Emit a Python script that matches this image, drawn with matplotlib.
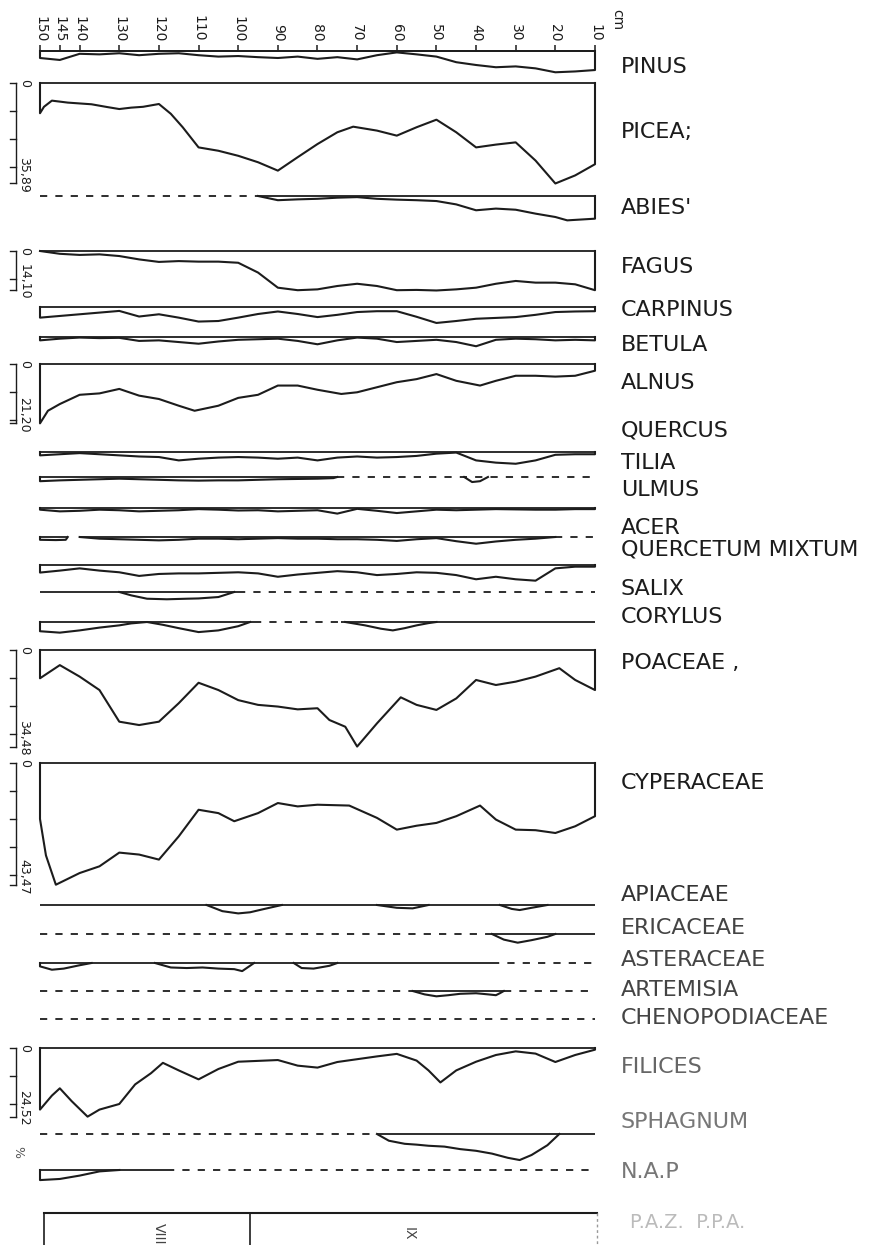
import numpy as np
import matplotlib
matplotlib.use("Agg")
import matplotlib.pyplot as plt

plt.rcParams['font.family'] = ['DejaVu Sans']

# figure geometry (pixels)
W, H = 873, 1245
X_LEFT, X_RIGHT = 40, 595          # depth 150 cm .. 10 cm
SCALE = 2.8                        # px per percent, common to all curves
INK = '#1c1c1c'

# depth scale
DEPTH = list(range(150, 5, -5))    # 150, 145, ... 10 cm
TICKS = [150, 145, 140, 130, 120, 110, 100, 90, 80, 70, 60, 50, 40, 30, 20, 10]

# pollen percentages
PINUS = [2.5, 3.2, 1.0, 1.2, 0.8, 1.5, 1.0, 0.8, 1.5, 2.0, 1.8, 2.2, 2.5, 2.0, 2.8,
         2.2, 3.0, 1.5, 0.5, 1.2, 2.0, 4.0, 5.0, 5.8, 5.5, 6.2, 7.6, 7.3, 6.8]

PICEA_D = [150, 149, 147, 143, 140, 137, 133, 130, 127, 124, 120, 117, 114, 110, 105,
           100, 95, 90, 85, 80, 75, 71, 65, 60, 55, 50, 45, 40, 35, 30, 25, 20, 15, 10]
PICEA = [10.8, 8.5, 6.3, 7.0, 7.3, 7.6, 8.6, 9.3, 8.8, 8.5, 7.5, 11.0, 15.8, 23.0, 24.2,
         26.0, 28.3, 31.3, 26.5, 21.8, 17.6, 15.6, 17.0, 18.8, 15.8, 13.1, 17.6, 23.0,
         22.0, 21.2, 27.7, 35.89, 33.0, 29.0]

ABIES_D = [95, 90, 85, 80, 75, 70, 65, 60, 55, 50, 45, 40, 35, 30, 25, 20, 17, 10]
ABIES = [0, 1.5, 1.2, 1.0, 0.6, 0.4, 1.0, 1.3, 1.5, 1.8, 3.0, 5.1, 4.5, 4.9, 6.3, 7.5, 8.7, 8.1]

FAGUS = [0, 1.0, 1.4, 1.2, 1.8, 3.0, 3.9, 3.6, 3.8, 3.8, 4.2, 7.7, 13.1, 14.0, 13.7,
         12.5, 11.7, 12.5, 14.0, 13.9, 14.1, 13.7, 13.1, 11.7, 10.7, 11.3, 11.3, 11.9, 14.0]

CARPINUS = [3.8, 3.2, 2.6, 2.0, 1.4, 3.4, 2.6, 3.8, 5.2, 5.0, 3.8, 2.5, 1.6, 2.5, 3.6,
            2.8, 1.8, 1.5, 1.5, 3.5, 5.7, 5.0, 4.2, 3.9, 3.6, 2.8, 1.8, 1.6, 1.5]

BETULA = [1.2, 0.6, 0.2, 0.4, 0.3, 1.4, 1.2, 1.8, 2.4, 1.6, 1.0, 0.8, 0.6, 1.4, 2.6,
          1.2, 0.2, 0.6, 1.8, 1.4, 1.0, 1.8, 3.3, 1.0, 0.6, 0.8, 1.2, 1.0, 1.2]

ALNUS_D = [150, 148, 145, 140, 135, 130, 125, 120, 115, 111, 105, 100, 95, 90, 85,
           80, 74, 70, 65, 60, 55, 50, 45, 39, 35, 30, 25, 20, 15, 10]
ALNUS = [21.2, 16.7, 14.3, 11.0, 10.5, 8.9, 11.3, 12.5, 14.9, 16.7, 14.9, 12.1, 11.0, 7.7, 7.7,
         9.2, 10.7, 10.1, 8.3, 6.5, 5.4, 3.6, 6.0, 7.7, 6.0, 4.2, 4.2, 4.5, 4.2, 2.4]

QUERCUS = [1.2, 0.8, 0.4, 0.8, 1.2, 1.6, 1.8, 3.0, 2.4, 2.0, 1.8, 2.0, 2.4, 2.0, 3.0,
           2.0, 1.6, 2.0, 1.8, 1.4, 0.6, 0.2, 3.0, 3.8, 4.2, 3.0, 1.0, 0.8, 0.8]

TILIA_D = [150, 145, 140, 135, 130, 125, 120, 115, 110, 105, 100, 95, 90, 85, 80, 76, 75,
           43, 41, 39, 37]
TILIA = [1.5, 1.2, 1.0, 0.8, 0.6, 0.8, 1.0, 1.2, 1.3, 1.2, 1.2, 1.0, 0.8, 0.7, 0.6, 0.4, 0,
         0, 1.8, 1.5, 0]

ULMUS = [0.6, 1.2, 1.0, 0.6, 0.8, 1.2, 1.0, 0.8, 0.4, 0.6, 0.9, 0.8, 1.2, 1.0, 0.8,
         2.0, 0.3, 1.0, 1.8, 1.2, 0.6, 0.8, 0.6, 0.4, 0.5, 0.6, 0.6, 0.4, 0.4]

ACER_D = [150, 146, 143.5, 143, 140, 135, 130, 125, 120, 115, 110, 105, 100, 95, 90, 85,
          80, 75, 70, 65, 60, 55, 50, 45, 40, 35, 30, 25, 20]
ACER = [1.0, 1.1, 1.0, 0, 0, 0.6, 0.8, 1.0, 1.2, 1.0, 0.6, 0.6, 0.8, 0.6, 0.4, 0.6,
        0.6, 0.8, 0.8, 1.0, 1.4, 0.8, 0.4, 1.5, 2.4, 1.6, 1.0, 0.6, 0]

QM = [2.7, 2.0, 1.2, 2.0, 2.6, 3.9, 3.2, 3.0, 3.0, 2.8, 2.6, 3.0, 4.2, 3.4, 2.8,
      2.2, 2.6, 3.6, 3.2, 2.6, 2.8, 3.6, 5.1, 4.2, 5.1, 5.6, 1.2, 0.6, 0.6]

SALIX_D = [130, 127, 123, 118, 113, 110, 105, 101]
SALIX = [0, 1.2, 2.4, 2.6, 2.4, 2.3, 1.8, 0]

CORYLUS_D = [150, 145, 140, 135, 130, 127, 123, 119, 115, 110, 105, 100, 97,
             73, 68, 64, 61, 58, 55, 52, 50]
CORYLUS = [3.3, 3.8, 3.0, 2.0, 1.2, 0.5, 0, 1.0, 2.2, 3.6, 3.0, 1.5, 0,
           0, 1.2, 2.4, 3.0, 2.2, 1.2, 0.4, 0]

POACEAE_D = [150, 145, 140, 135, 130, 125, 120, 115, 110, 105, 100, 95, 90, 85, 80,
             77, 73, 70, 65, 59, 55, 50, 45, 40, 35, 30, 25, 19, 15, 10]
POACEAE = [10.1, 5.4, 9.5, 14.3, 25.6, 26.8, 25.6, 19.0, 11.7, 14.3, 17.9, 19.6, 20.2, 21.2, 20.8,
           25.0, 27.4, 34.48, 26.2, 16.9, 19.6, 21.4, 17.3, 10.7, 12.5, 11.3, 9.5, 6.5, 10.7, 14.3]

CYPERACEAE_D = [150, 148.5, 146, 140, 135, 130, 125, 120, 115, 110, 105, 101, 95, 90, 85,
                80, 72, 65, 60, 55, 50, 45, 39, 35, 30, 25, 20, 15, 10]
CYPERACEAE = [20.0, 33.0, 43.47, 39.3, 36.9, 32.0, 32.7, 34.5, 26.2, 16.7, 17.9, 20.8, 17.9, 14.3, 15.5,
              14.9, 15.2, 19.6, 23.8, 22.4, 21.4, 19.0, 15.2, 20.2, 23.8, 24.0, 25.0, 22.6, 19.0]

APIACEAE_D = [108, 104, 100, 97, 94, 89, 65, 60, 56, 52, 34, 31, 29, 26, 22]
APIACEAE = [0, 2.2, 3.0, 2.6, 1.6, 0, 0, 1.0, 1.2, 0, 0, 1.4, 1.8, 1.0, 0]

ERICACEAE_D = [36, 33, 29.5, 26, 22, 20]
ERICACEAE = [0, 2.0, 3.1, 2.2, 1.0, 0]

ASTERACEAE_D = [150, 147, 144, 140, 137, 121, 117, 113, 109, 105, 101, 99, 96,
                86, 84, 81, 77, 75]
ASTERACEAE = [1.2, 2.4, 2.0, 0.8, 0, 0, 1.6, 1.8, 1.6, 2.0, 2.2, 2.9, 0,
              0, 1.8, 2.0, 1.0, 0]

ARTEMISIA_D = [56, 53, 50, 47, 44, 40, 37, 35, 34, 33]
ARTEMISIA = [0, 1.2, 1.9, 1.5, 1.0, 0.8, 1.2, 1.5, 0.8, 0]

FILICES_D = [150, 147, 145, 142, 138, 135, 130, 126, 122, 119, 115, 110, 105, 100, 95,
             90, 85, 80, 75, 70, 65, 60, 55, 52, 49, 45, 40, 35, 30, 25, 20, 15, 10]
FILICES = [22.0, 17.0, 14.4, 19.0, 24.52, 22.0, 20.0, 13.0, 9.0, 5.3, 8.0, 11.2, 7.5, 4.9, 4.6,
           4.3, 6.3, 7.0, 5.0, 4.0, 3.0, 2.1, 4.5, 8.0, 12.3, 8.0, 4.9, 2.5, 1.2, 2.0, 5.0, 2.5, 0.6]

SPHAGNUM_D = [65, 62, 58, 55, 52, 48, 44, 40, 36, 32, 29, 26, 22, 19]
SPHAGNUM = [0, 2.4, 3.5, 3.8, 4.2, 4.5, 5.4, 6.0, 7.0, 8.5, 9.3, 7.5, 4.0, 0]

NAP_D = [150, 145, 140, 135, 130]
NAP = [3.6, 3.2, 2.0, 0.5, 0]

ZONE_EDGES = [149, 97, 9.5]
ZONE_NAMES = ['VIII', 'IX']
ZONE_LABEL_AT = [120, 57]

SOLID = [(150, 10, '-')]

# name, depths, values, baseline y, label y, baseline pieces, label colour
rows = [
    ('PINUS', DEPTH, PINUS, 51, 67, SOLID, INK),
    ('PICEA;', PICEA_D, PICEA, 83, 132, SOLID, INK),
    ("ABIES'", ABIES_D, ABIES, 196, 208, [(150, 95, '--'), (95, 10, '-')], INK),
    ('FAGUS', DEPTH, FAGUS, 251, 267, SOLID, INK),
    ('CARPINUS', DEPTH, CARPINUS, 307, 310, SOLID, INK),
    ('BETULA', DEPTH, BETULA, 337, 345, SOLID, INK),
    ('ALNUS', ALNUS_D, ALNUS, 364, 383, SOLID, INK),
    ('QUERCUS', DEPTH, QUERCUS, 452, 430, SOLID, INK),
    ('TILIA', TILIA_D, TILIA, 477, 463, [(150, 75, '-'), (75, 10, '--')], INK),
    ('ULMUS', DEPTH, ULMUS, 508, 490, SOLID, INK),
    ('ACER', ACER_D, ACER, 537, 528, [(150, 143, '-'), (140, 20, '-'), (20, 10, '--')], INK),
    ('QUERCETUM MIXTUM', DEPTH, QM, 565, 549, SOLID, INK),
    ('SALIX', SALIX_D, SALIX, 592, 589, [(150, 100, '-'), (100, 10, '--')], INK),
    ('CORYLUS', CORYLUS_D, CORYLUS, 622, 617, [(150, 96, '-'), (96, 74, '--'), (74, 10, '-')], INK),
    ('POACEAE ,', POACEAE_D, POACEAE, 650, 663, SOLID, INK),
    ('CYPERACEAE', CYPERACEAE_D, CYPERACEAE, 763, 783, SOLID, INK),
    ('APIACEAE', APIACEAE_D, APIACEAE, 905, 895, SOLID, '#333333'),
    ('ERICACEAE', ERICACEAE_D, ERICACEAE, 934, 928, [(150, 36, '--'), (36, 10, '-')], '#444444'),
    ('ASTERACEAE', ASTERACEAE_D, ASTERACEAE, 963, 960, [(150, 36, '-'), (36, 10, '--')], '#444444'),
    ('ARTEMISIA', ARTEMISIA_D, ARTEMISIA, 991, 990,
     [(150, 56, '--'), (56, 33, '-'), (33, 10, '--')], '#444444'),
    ('CHENOPODIACEAE', [], [], 1019, 1018, [(150, 10, '--')], '#444444'),
    ('FILICES', FILICES_D, FILICES, 1048, 1067, SOLID, '#666666'),
    ('SPHAGNUM', SPHAGNUM_D, SPHAGNUM, 1134, 1122, [(150, 65, '--'), (65, 10, '-')], '#777777'),
    ('N.A.P', NAP_D, NAP, 1170, 1172, [(150, 118, '-'), (118, 10, '--')], '#777777'),
]

# taxa carrying a percentage scale bar on the left
scale_bars = {'PICEA;': '35,89', 'FAGUS': '14,10', 'ALNUS': '21,20',
              'POACEAE ,': '34,48', 'CYPERACEAE': '43,47', 'FILICES': '24,52'}

PX_PER_CM = (X_RIGHT - X_LEFT) / 140.0


def px_to_depth(x):
    return 150 - (x - X_LEFT) / PX_PER_CM


def curve_pieces(d, v):
    """split a curve where it runs along zero, closing each piece onto the baseline"""
    pieces, cur = [], [0]
    for i in range(1, len(v)):
        if v[i - 1] == 0 and v[i] == 0:
            pieces.append(cur)
            cur = [i]
        else:
            cur.append(i)
    pieces.append(cur)
    out = []
    for idx in pieces:
        if len(idx) < 2:
            continue
        sd = [d[i] for i in idx]
        sv = [v[i] for i in idx]
        if sv[0] > 0:
            sd.insert(0, sd[0])
            sv.insert(0, 0)
        if sv[-1] > 0:
            sd.append(sd[-1])
            sv.append(0)
        out.append((sd, sv))
    return out


fig = plt.figure(figsize=(W / 100, H / 100), dpi=100)
fig.patch.set_facecolor('white')


def row_axes(base, depth_pct):
    h = depth_pct * SCALE
    ax = fig.add_axes([X_LEFT / W, 1 - (base + h) / H, (X_RIGHT - X_LEFT) / W, h / H])
    ax.set_xlim(150, 10)
    ax.set_ylim(depth_pct, 0)
    ax.patch.set_visible(False)
    for s in ax.spines.values():
        s.set_visible(False)
    ax.set_xticks([])
    ax.set_yticks([])
    return ax


axes = {}
for name, d, v, base, label_y, pieces, colour in rows:
    depth_pct = (max(v) if len(v) else 0) + 6
    ax = row_axes(base, depth_pct)
    axes[name] = ax
    for a, b, ls in pieces:
        if ls == '-':
            ax.plot([a, b], [0, 0], color=INK, lw=1.3, clip_on=False, solid_capstyle='butt')
        else:
            ax.plot([a, b], [0, 0], color=INK, lw=1.3, dashes=(4, 4.5), clip_on=False)
    if len(v):
        for sd, sv in curve_pieces(d, v):
            ax.plot(sd, sv, color=INK, lw=1.5, clip_on=False, solid_joinstyle='round')
    fig.text(621 / W, 1 - label_y / H, name, fontsize=16, color=colour,
             ha='left', va='center')

    if name in scale_bars:
        top = float(scale_bars[name].replace(',', '.'))
        xb = px_to_depth(16)
        xt = px_to_depth(10)
        ax.plot([xb, xb], [0, top], color=INK, lw=1.0, clip_on=False)
        for t in list(np.arange(0, top, 10)) + [top]:
            ax.plot([xt, xb], [t, t], color=INK, lw=1.0, clip_on=False)
        ax.text(px_to_depth(25), 0, '0', fontsize=9, color=INK, ha='center', va='center',
                rotation=-90)
        ax.text(px_to_depth(24), top - 3.0, scale_bars[name], fontsize=9, color=INK,
                ha='center', va='center', rotation=-90)

# depth scale along the top of the pinus curve
ax = axes['PINUS']
ax.spines['top'].set_visible(True)
ax.spines['top'].set_color(INK)
ax.spines['top'].set_linewidth(1.3)
ax.xaxis.tick_top()
ax.set_xticks(TICKS)
ax.set_xticklabels([str(t) for t in TICKS])
ax.tick_params(axis='x', direction='out', length=4.5, width=1.1, color=INK,
               labelsize=10, labelrotation=-90, pad=2, labelcolor=INK)
fig.text(617 / W, 1 - 20 / H, 'cm', fontsize=10, rotation=-90, ha='center', va='center',
         color=INK)

# percentage sign under the filices bar
fig.text(18 / W, 1 - 1152 / H, '%', fontsize=9, rotation=-90, ha='center', va='center',
         color='#555555')

# pollen zones
zax = row_axes(1213, 20)
zax.plot([ZONE_EDGES[0], ZONE_EDGES[-1]], [0, 0], color=INK, lw=1.5, clip_on=False)
zax.plot([ZONE_EDGES[0], ZONE_EDGES[0]], [0, 20], color=INK, lw=1.2, clip_on=False)
zax.plot([ZONE_EDGES[1], ZONE_EDGES[1]], [0, 20], color=INK, lw=1.2, clip_on=False)
zax.plot([ZONE_EDGES[-1], ZONE_EDGES[-1]], [0, 20], color='#999999', lw=1.0,
         dashes=(2, 2), clip_on=False)
for c, z in zip(ZONE_LABEL_AT, ZONE_NAMES):
    zax.text(c, 7.5, z, fontsize=10, rotation=-90, ha='center', va='center', color='#444444')
fig.text(630 / W, 1 - 1223 / H, 'P.A.Z.  P.P.A.', fontsize=14, color='#bbbbbb',
         ha='left', va='center')

fig.savefig('out.png', dpi=100, facecolor='white')
